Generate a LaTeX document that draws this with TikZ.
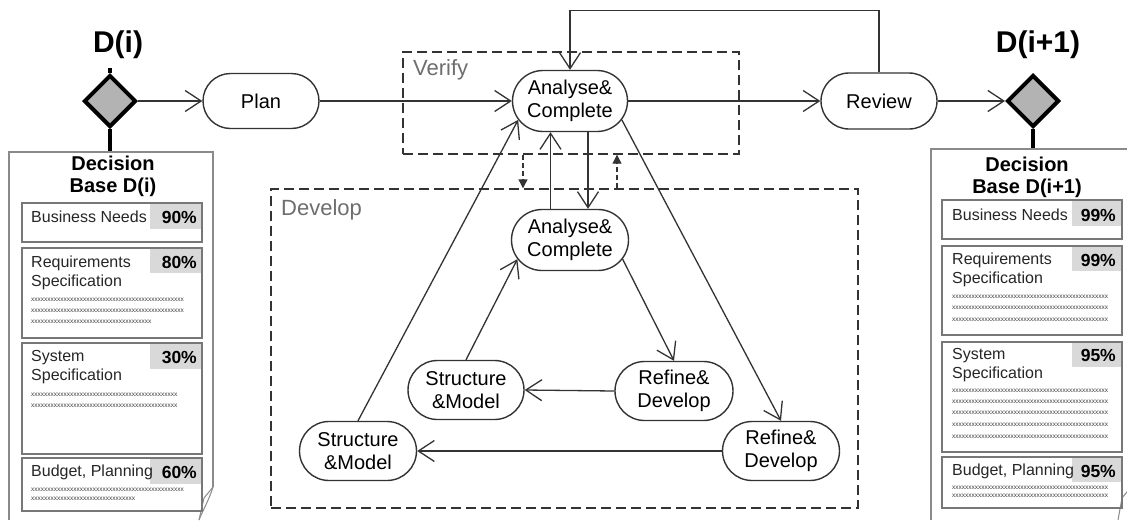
\documentclass[tikz,border=0pt]{standalone}
\usepackage{fontspec}
\setmainfont{Liberation Sans}
\usetikzlibrary{shapes.geometric,shapes.misc,arrows.meta,calc}
\definecolor{ln}{HTML}{333333}
\definecolor{pagec}{HTML}{8A8A8A}
\definecolor{subc}{HTML}{777777}
\definecolor{pctc}{HTML}{D9D9D9}
\definecolor{lblc}{HTML}{6E6E6E}
\definecolor{dmd}{HTML}{B3B3B3}
\ExplSyntaxOn
\NewDocumentCommand{\xrun}{m}{\prg_replicate:nn {#1} {x}}
\ExplSyntaxOff
\begin{document}
\begin{tikzpicture}[x=1pt,y=-1pt,
  proc/.style={rounded rectangle, draw=ln, line width=1.4pt, fill=white,
    minimum width=116pt, minimum height=59pt, inner sep=0pt, align=center,
    font=\fontsize{20}{23.5}\selectfont},
  conn/.style={draw=ln, line width=1.3pt,
    -{Straight Barb[length=16pt,width=21pt,line width=1.3pt]}},
  dbox/.style={draw=ln, line width=1.4pt, dash pattern=on 10pt off 5pt, minimum width=#1},
  grplbl/.style={text=lblc, font=\fontsize{22}{24}\selectfont, anchor=west, inner sep=0pt},
  dashedarr/.style={draw=ln, line width=1.1pt, dash pattern=on 5pt off 3pt,
    -{Triangle[length=9pt,width=9pt]}},
  gate/.style={diamond, draw=black, line width=4pt, fill=dmd, minimum width=52pt,
    minimum height=52pt, inner sep=0pt},
  stick/.style={draw=black, line width=4pt},
  dlabel/.style={font=\bfseries\fontsize{30}{32}\selectfont, inner sep=0pt},
  page/.style={draw=pagec, line width=1.3pt},
  subbox/.style={draw=subc, line width=1.2pt},
  pctfill/.style={fill=pctc},
  hdr/.style={font=\bfseries\fontsize{20}{22}\selectfont, align=center, inner sep=0pt},
  txt/.style={font=\fontsize{16}{19}\selectfont, text=black!85, align=left, anchor=west, inner sep=0pt},
  pct/.style={font=\bfseries\fontsize{17.5}{19}\selectfont, anchor=east, inner sep=0pt},
  xs/.style={font=\fontsize{6.5}{7}\selectfont, text=black!75, anchor=west, inner sep=0pt}
]
\useasboundingbox (0,0) rectangle (1127,520);
\fill[white] (0,0) rectangle (1127,520);

% ---------- group boxes ----------
\node[dbox=336pt, minimum height=102pt] (V) at (571,103) {};
\node[grplbl] (VL) at (413,70) {Verify};
\node[dbox=587pt, minimum height=319pt] (Dv) at (564.5,348.5) {};
\node[grplbl] (DL) at (281,210) {Develop};

% ---------- process nodes ----------
\node[proc, minimum height=55pt] (P)  at (261,101) {Plan};
\node[proc, minimum width=115pt, minimum height=61pt] (A) at (570,101) {Analyse\&\\Complete};
\node[proc, minimum height=56pt] (Rv) at (879,101) {Review};
\node[proc, minimum width=117pt, minimum height=61pt] (C) at (570,240) {Analyse\&\\Complete};
\node[proc, minimum width=118pt] (R1) at (674,391) {Refine\&\\Develop};
\node[proc] (S1) at (466,390) {Structure\\\&Model};
\node[proc, minimum width=117pt] (S2) at (358,451) {Structure\\\&Model};
\node[proc, minimum width=117pt] (R2) at (781,451) {Refine\&\\Develop};

% ---------- gates ----------
\node[gate] (D1) at (110,101) {};
\node[gate] (D2) at (1033,101) {};
\node[dlabel] (L1) at (118,45) {D(i)};
\node[dlabel] (L2) at (1038,45) {D(i+1)};
\coordinate (doc1) at (110,152);
\coordinate (doc2) at (1033,149);
\draw[stick] (D1.north) -- ++(0,-5);
\draw[stick] (D1.south) -- (doc1);
\draw[stick] (D2.south) -- (doc2);

% ---------- connectors ----------
\draw[conn] (D1.east) -- (P.west);
\draw[conn] (P.east) -- (A.west);
\draw[conn] (A.east) -- (Rv.west);
\draw[conn] (Rv.east) -- (D2.west);
\draw[conn] (Rv.north) -- ++(0,-62) -| (A.north);
\draw[conn] (A.300) -- (A.300 |- C.north);
\draw[conn] (C.122) -- (C.122 |- A.south);
\draw[conn] (S2.north) -- (A.200);
\draw[conn] (A.-20) -- (R2.north);
\draw[conn] (S1.north) -- (C.200);
\draw[conn] (C.-20) -- (R1.north);
\draw[conn] (R1.west) -- (S1.east);
\draw[conn] (R2.west) -- (S2.east);
\coordinate (dl) at (523,0);
\coordinate (dr) at (617,0);
\draw[dashedarr] (V.south -| dl) -- (Dv.north -| dl);
\draw[dashedarr] (Dv.north -| dr) -- (V.south -| dr);

% ---------- left decision base ----------
\draw[page] (9,520) -- (9,152) -- (213,152) -- (213,487);
\draw[page, line width=1pt] (213,487) .. controls (209,500) and (203,510) .. (199,520);
\draw[page, line width=1pt] (213,487) -- (204,498) -- (199,520);
\node[hdr] (H1) at (113,176) {Decision\\Base D(i)};

\fill[pctfill] (150,203) rectangle (202,229);
\draw[subbox] (22,203) rectangle (202,242);
\node[txt] (t11) at (31,217) {Business Needs};
\node[pct] (p11) at (197,217) {90\%};

\fill[pctfill] (150,248) rectangle (202,273);
\draw[subbox] (22,248) rectangle (202,338);
\node[txt] (t12) at (31,272.5) {Requirements\\Specification};
\node[pct] (p12) at (197,262) {80\%};
\node[xs] at (31,300) {\xrun{47}};
\node[xs] at (31,311) {\xrun{47}};
\node[xs] at (31,322) {\xrun{37}};

\fill[pctfill] (150,343) rectangle (202,369);
\draw[subbox] (22,343) rectangle (202,454);
\node[txt] (t13) at (31,367.5) {System\\Specification};
\node[pct] (p13) at (197,357) {30\%};
\node[xs] at (31,395) {\xrun{45}};
\node[xs] at (31,406) {\xrun{45}};

\fill[pctfill] (150,458) rectangle (202,484);
\draw[subbox] (22,458) rectangle (202,511);
\node[txt] (t14) at (31,472) {Budget, Planning};
\node[pct] (p14) at (197,472) {60\%};
\node[xs] at (31,490) {\xrun{47}};
\node[xs] at (31,499) {\xrun{32}};

% ---------- right decision base ----------
\draw[page] (931,520) -- (931,149) -- (1127,149);
\draw[page, line width=1pt] (1131,487) -- (1122,498) -- (1118,520);
\node[hdr] (H2) at (1027,177.5) {Decision\\Base D(i+1)};

\fill[pctfill] (1072,200) rectangle (1122,226);
\draw[subbox] (942,200) rectangle (1122,239);
\node[txt] (t21) at (952,215) {Business Needs};
\node[pct] (p21) at (1116,215) {99\%};

\fill[pctfill] (1072,246) rectangle (1122,271);
\draw[subbox] (942,246) rectangle (1122,335);
\node[txt] (t22) at (952,270) {Requirements\\Specification};
\node[pct] (p22) at (1116,260) {99\%};
\node[xs] at (952,297) {\xrun{48}};
\node[xs] at (952,308) {\xrun{48}};
\node[xs] at (952,320) {\xrun{48}};

\fill[pctfill] (1072,342) rectangle (1122,367);
\draw[subbox] (942,342) rectangle (1122,452);
\node[txt] (t23) at (952,365) {System\\Specification};
\node[pct] (p23) at (1116,355) {95\%};
\node[xs] at (952,391) {\xrun{48}};
\node[xs] at (952,402) {\xrun{48}};
\node[xs] at (952,413) {\xrun{48}};
\node[xs] at (952,425) {\xrun{48}};
\node[xs] at (952,437) {\xrun{48}};

\fill[pctfill] (1072,457) rectangle (1122,482);
\draw[subbox] (942,457) rectangle (1122,508);
\node[txt] (t24) at (952,471) {Budget, Planning};
\node[pct] (p24) at (1116,471) {95\%};
\node[xs] at (952,488) {\xrun{48}};
\node[xs] at (952,496) {\xrun{48}};
\end{tikzpicture}
\end{document}
